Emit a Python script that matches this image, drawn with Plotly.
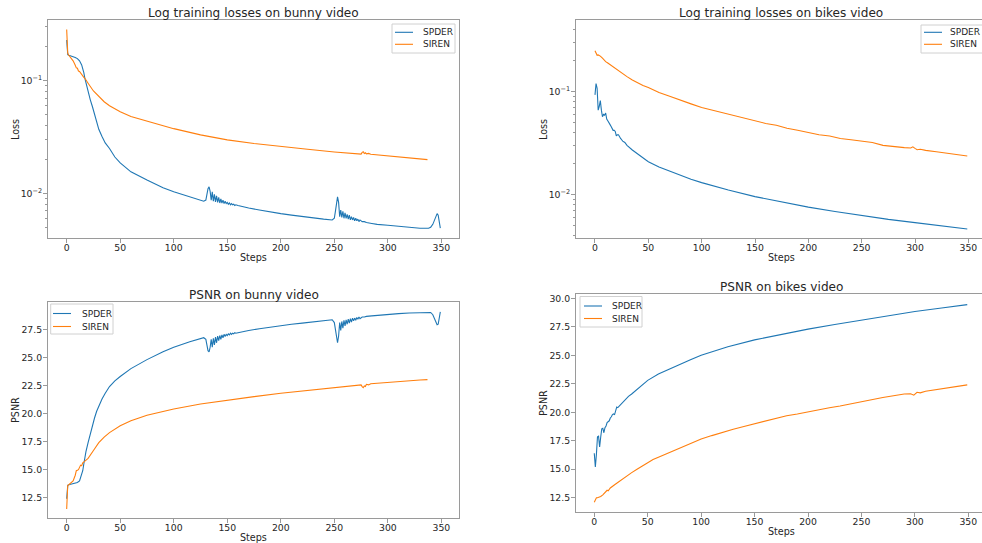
import plotly.graph_objects as go

# ---------------- data (step, value) ----------------
bunny_loss_spder = [
    (0, 0.23), (1, 0.170), (2, 0.168), (4, 0.166), (6, 0.164), (8, 0.161), (10, 0.157), (12, 0.150),
    (14, 0.138), (15, 0.130), (16, 0.118), (17, 0.105), (18, 0.095), (20, 0.080), (22, 0.068),
    (24, 0.059), (26, 0.050), (28, 0.043), (30, 0.037), (33, 0.032), (36, 0.028), (40, 0.025),
    (45, 0.021), (50, 0.0186), (60, 0.0155), (75, 0.0131), (90, 0.0112), (100, 0.0103), (115, 0.0093),
    (128, 0.0085), (130, 0.0087), (131, 0.0098), (132, 0.0110), (133, 0.0114), (134, 0.0104),
    (135, 0.0087), (136, 0.0103), (137, 0.0085), (138, 0.0098), (139, 0.0084), (140, 0.0095),
    (141, 0.0083), (142, 0.0092), (143, 0.0082), (144, 0.0089), (145, 0.0082), (146, 0.0087),
    (147, 0.0081), (148, 0.0085), (149, 0.0081), (150, 0.0083), (151, 0.0080), (152, 0.0082),
    (153, 0.0079), (154, 0.0081), (155, 0.0079), (156, 0.0080), (157, 0.0078), (158, 0.0079),
    (160, 0.0078), (162, 0.0077), (165, 0.0076), (170, 0.0074), (180, 0.0071), (190, 0.0068),
    (200, 0.0066), (210, 0.0064), (220, 0.0062), (230, 0.0061), (240, 0.0059), (248, 0.0058),
    (250, 0.0060), (251, 0.0069), (252, 0.0083), (253, 0.0093), (254, 0.0083), (255, 0.0062),
    (256, 0.0071), (257, 0.0061), (258, 0.0069), (259, 0.0060), (260, 0.0067), (261, 0.0060),
    (262, 0.0065), (263, 0.0059), (264, 0.0064), (265, 0.0058), (266, 0.0062), (267, 0.0058),
    (268, 0.0061), (269, 0.0057), (270, 0.0060), (271, 0.0057), (272, 0.0059), (273, 0.0056),
    (274, 0.0058), (276, 0.0056), (278, 0.0056), (280, 0.0055), (285, 0.0054), (290, 0.0053),
    (300, 0.0052), (310, 0.0051), (320, 0.0050), (330, 0.0049), (338, 0.0049), (340, 0.0050),
    (342, 0.0053), (344, 0.0059), (345, 0.0063), (346, 0.0066), (347, 0.0064), (348, 0.0056),
    (349, 0.0049),
]
bunny_loss_siren = [
    (0, 0.285), (1, 0.175), (2, 0.168), (4, 0.160), (6, 0.150), (8, 0.137), (9, 0.130), (10, 0.129),
    (11, 0.122), (12, 0.121), (14, 0.113), (16, 0.107), (17, 0.105), (18, 0.101), (20, 0.095),
    (25, 0.081), (30, 0.072), (35, 0.065), (40, 0.060), (50, 0.053), (60, 0.048), (75, 0.0435),
    (100, 0.0375), (125, 0.0330), (150, 0.0298), (175, 0.0277), (200, 0.0260), (225, 0.0246),
    (250, 0.0233), (270, 0.0225), (275, 0.0223), (276, 0.0231), (277, 0.0234), (278, 0.0226),
    (279, 0.0229), (280, 0.0224), (282, 0.0226), (284, 0.0222), (290, 0.0219), (300, 0.0214),
    (310, 0.0209), (320, 0.0205), (330, 0.0201), (337, 0.0199),
]
bikes_loss_spder = [
    (0, 0.093), (1, 0.120), (2, 0.108), (3, 0.066), (4, 0.072), (5, 0.082), (6, 0.066), (7, 0.057),
    (8, 0.060), (9, 0.059), (10, 0.062), (11, 0.054), (12, 0.052), (13, 0.049), (14, 0.048),
    (15, 0.046), (16, 0.044), (17, 0.042), (18, 0.042), (19, 0.041), (20, 0.037), (21, 0.038),
    (22, 0.038), (23, 0.036), (24, 0.035), (25, 0.034), (26, 0.033), (28, 0.032), (30, 0.030),
    (35, 0.027), (40, 0.0247), (45, 0.0225), (50, 0.0208), (60, 0.0185), (75, 0.0160), (90, 0.0140),
    (100, 0.0130), (125, 0.0110), (150, 0.0095), (175, 0.0084), (200, 0.0075), (225, 0.0068),
    (250, 0.0062), (275, 0.0057), (300, 0.0053), (325, 0.0049), (349, 0.0046),
]
bikes_loss_siren = [
    (0, 0.250), (1, 0.238), (2, 0.226), (3, 0.228), (5, 0.222), (7, 0.212), (8, 0.205), (10, 0.196),
    (12, 0.190), (15, 0.180), (20, 0.165), (25, 0.150), (30, 0.140), (35, 0.130), (40, 0.122),
    (45, 0.115), (50, 0.110), (60, 0.098), (70, 0.090), (75, 0.086), (80, 0.082), (90, 0.076),
    (100, 0.070), (110, 0.066), (120, 0.062), (125, 0.060), (130, 0.059), (140, 0.055), (150, 0.052),
    (160, 0.049), (170, 0.047), (180, 0.044), (190, 0.042), (200, 0.040), (210, 0.038), (220, 0.037),
    (230, 0.035), (240, 0.034), (250, 0.033), (260, 0.032), (270, 0.030), (280, 0.029), (290, 0.0285),
    (296, 0.0283), (298, 0.0290), (300, 0.0280), (302, 0.0272), (305, 0.0275), (310, 0.0268),
    (320, 0.0260), (330, 0.0252), (340, 0.0245), (349, 0.0236),
]
bunny_psnr_spder = [
    (0, 12.4), (1, 13.6), (2, 13.65), (4, 13.7), (6, 13.75), (8, 13.8), (10, 13.85), (12, 14.0),
    (14, 14.5), (15, 14.9), (16, 15.5), (17, 16.1), (18, 16.6), (20, 17.4), (22, 18.2), (24, 18.9),
    (26, 19.6), (28, 20.2), (30, 20.7), (33, 21.3), (36, 21.8), (40, 22.4), (45, 22.9), (50, 23.3),
    (60, 24.0), (75, 24.8), (90, 25.5), (100, 25.9), (115, 26.4), (128, 26.75), (130, 26.6),
    (131, 26.1), (132, 25.6), (133, 25.5), (134, 25.9), (135, 26.6), (136, 25.9), (137, 26.7),
    (138, 26.1), (139, 26.8), (140, 26.3), (141, 26.9), (142, 26.5), (143, 26.95), (144, 26.6),
    (145, 27.0), (146, 26.75), (147, 27.05), (148, 26.85), (149, 27.05), (150, 26.95), (151, 27.1),
    (152, 27.0), (153, 27.15), (154, 27.05), (155, 27.15), (156, 27.1), (157, 27.2), (158, 27.15),
    (160, 27.2), (162, 27.25), (165, 27.3), (170, 27.4), (180, 27.55), (190, 27.7), (200, 27.85),
    (210, 27.95), (220, 28.05), (230, 28.15), (240, 28.25), (248, 28.35), (250, 28.1), (251, 27.5),
    (252, 26.8), (253, 26.3), (254, 26.9), (255, 28.1), (256, 27.4), (257, 28.2), (258, 27.6),
    (259, 28.3), (260, 27.8), (261, 28.35), (262, 27.95), (263, 28.4), (264, 28.05), (265, 28.45),
    (266, 28.15), (267, 28.5), (268, 28.25), (269, 28.5), (270, 28.3), (271, 28.55), (272, 28.4),
    (273, 28.6), (274, 28.45), (276, 28.6), (278, 28.6), (280, 28.65), (285, 28.7), (290, 28.75),
    (300, 28.85), (310, 28.9), (320, 28.95), (330, 29.0), (338, 29.05), (340, 29.0), (342, 28.8),
    (344, 28.3), (345, 28.0), (346, 27.9), (347, 27.95), (348, 28.5), (349, 29.05),
]
bunny_psnr_siren = [
    (0, 11.5), (1, 13.6), (2, 13.65), (4, 13.8), (6, 14.0), (8, 14.5), (9, 14.9), (10, 14.95),
    (11, 15.0), (12, 15.2), (13, 15.4), (14, 15.35), (15, 15.6), (17, 15.75), (20, 16.0), (25, 16.7),
    (30, 17.4), (35, 17.9), (40, 18.3), (50, 18.9), (60, 19.35), (75, 19.85), (100, 20.4),
    (125, 20.85), (150, 21.2), (175, 21.5), (200, 21.8), (225, 22.05), (250, 22.3), (270, 22.5),
    (275, 22.55), (276, 22.4), (277, 22.3), (278, 22.45), (279, 22.4), (280, 22.6), (282, 22.55),
    (284, 22.65), (290, 22.7), (300, 22.78), (310, 22.85), (320, 22.92), (330, 22.98), (337, 23.02),
]
bikes_psnr_spder = [
    (0, 16.4), (1, 15.2), (2, 16.3), (3, 17.85), (4, 17.9), (5, 16.95), (6, 17.8), (7, 18.55),
    (8, 18.6), (9, 18.2), (10, 18.65), (11, 18.8), (12, 19.1), (13, 19.2), (14, 19.25), (15, 19.5),
    (16, 19.6), (17, 19.8), (18, 19.85), (19, 19.8), (20, 20.2), (21, 20.45), (22, 20.4), (23, 20.5),
    (24, 20.6), (25, 20.7), (26, 20.85), (28, 21.0), (30, 21.2), (32, 21.4), (35, 21.6), (40, 22.0),
    (45, 22.4), (50, 22.8), (60, 23.35), (75, 24.0), (90, 24.6), (100, 25.0), (125, 25.75),
    (150, 26.35), (175, 26.85), (200, 27.3), (225, 27.7), (250, 28.1), (275, 28.5), (300, 28.85),
    (325, 29.15), (349, 29.45),
]
bikes_psnr_siren = [
    (0, 12.1), (1, 12.4), (2, 12.5), (3, 12.5), (5, 12.55), (6, 12.6), (8, 12.75), (10, 12.95),
    (12, 13.15), (13, 13.1), (15, 13.35), (20, 13.7), (25, 14.05), (30, 14.4), (35, 14.7), (40, 15.0),
    (45, 15.3), (50, 15.6), (55, 15.85), (60, 16.05), (70, 16.45), (75, 16.7), (80, 16.9), (90, 17.3),
    (100, 17.65), (110, 17.95), (120, 18.25), (130, 18.5), (140, 18.75), (150, 19.0), (160, 19.25),
    (170, 19.5), (180, 19.7), (190, 19.85), (200, 20.05), (210, 20.25), (220, 20.4), (230, 20.55),
    (240, 20.75), (250, 20.9), (260, 21.1), (270, 21.3), (280, 21.45), (290, 21.6), (296, 21.62),
    (299, 21.5), (302, 21.75), (305, 21.7), (310, 21.85), (320, 22.0), (330, 22.15), (340, 22.25),
    (349, 22.4),
]

series_names = ["SPDER", "SIREN"]
panel_titles = ["Log training losses on bunny video", "Log training losses on bikes video",
                "PSNR on bunny video", "PSNR on bikes video"]
x_label = "Steps"
y_labels = ["Loss", "Loss", "PSNR", "PSNR"]
step_ticks = [0, 50, 100, 150, 200, 250, 300, 350]
log_ticks = [0.01, 0.1]
log_ticktext = ["10<sup>\u22122</sup>", "10<sup>\u22121</sup>"]
log_minor = [0.004, 0.005, 0.006, 0.007, 0.008, 0.009, 0.02, 0.03, 0.04, 0.05, 0.06, 0.07,
             0.08, 0.09, 0.2, 0.3, 0.4]
psnr_ticks_left = [12.5, 15.0, 17.5, 20.0, 22.5, 25.0, 27.5]
psnr_ticks_right = [12.5, 15.0, 17.5, 20.0, 22.5, 25.0, 27.5, 30.0]

# ---------------- styling ----------------
W, H = 982, 543
BLUE, ORANGE = "#1f77b4", "#ff7f0e"
SPINE = "#9a9a9a"
TXT = "#262626"
FONT = "DejaVu Sans"
TICK_SIZE, LABEL_SIZE, TITLE_SIZE, LEGEND_SIZE = 9.3, 9.6, 12.1, 9.0


def px(x):
    return x / W


def py(y):
    return 1 - y / H


def unzip(pairs):
    return [p[0] for p in pairs], [p[1] for p in pairs]


fig = go.Figure()

panels = [
    ("x", "y", bunny_loss_spder, bunny_loss_siren),
    ("x2", "y2", bikes_loss_spder, bikes_loss_siren),
    ("x3", "y3", bunny_psnr_spder, bunny_psnr_siren),
    ("x4", "y4", bikes_psnr_spder, bikes_psnr_siren),
]
for xa, ya, s1, s2 in panels:
    for pairs, name, col in ((s1, series_names[0], BLUE), (s2, series_names[1], ORANGE)):
        xs, ys = unzip(pairs)
        fig.add_trace(go.Scatter(x=xs, y=ys, mode="lines", name=name, xaxis=xa, yaxis=ya,
                                 line=dict(color=col, width=1.1), showlegend=False,
                                 hoverinfo="skip"))

# panel geometry in pixels: (left, right, top, bottom)
geom = [(48, 459, 20, 238), (576, 982, 20, 238), (48, 459, 301.7, 518), (576, 982, 294, 511.7)]
x_ranges = [[-17.45, 366.45], [-17.8, 362.8], [-17.45, 366.45], [-17.1, 362.8]]
y_ranges = [[-2.397, -0.461], [-2.4255, -0.302], [10.69, 29.96], [11.27, 30.38]]

common = dict(showline=True, linecolor=SPINE, linewidth=1, mirror=True, ticks="outside",
              ticklen=4, tickwidth=1, tickcolor=SPINE, showgrid=False, zeroline=False,
              tickfont=dict(family=FONT, size=TICK_SIZE, color=TXT))
layout = {}
for i, (l, r, t, b) in enumerate(geom):
    sfx = "" if i == 0 else str(i + 1)
    layout["xaxis" + sfx] = dict(common, domain=[px(l), px(r)], anchor="y" + sfx,
                                 range=x_ranges[i], tickvals=step_ticks, ticklabelstandoff=-3)
    yax = dict(common, domain=[py(b), py(t)], anchor="x" + sfx, range=y_ranges[i],
               ticklabelstandoff=-1)
    if i < 2:
        yax.update(type="log", tickvals=log_ticks, ticktext=log_ticktext,
                   minor=dict(tickvals=log_minor, ticks="outside", ticklen=2,
                              tickcolor=SPINE, showgrid=False))
    else:
        yax.update(tickvals=psnr_ticks_left if i == 2 else psnr_ticks_right, tickformat=".1f")
    layout["yaxis" + sfx] = yax

annotations = []
title_pos = [(253.5, 13), (781, 13), (253.5, 295), (781, 286.5)]
for (tx, ty), txt in zip(title_pos, panel_titles):
    annotations.append(dict(x=px(tx), y=py(ty), xref="paper", yref="paper", text=txt,
                            showarrow=False, xanchor="center", yanchor="middle",
                            font=dict(family=FONT, size=TITLE_SIZE, color=TXT)))
xlab_pos = [(253.5, 257), (781, 257), (253.5, 537), (781, 531.5)]
for tx, ty in xlab_pos:
    annotations.append(dict(x=px(tx), y=py(ty), xref="paper", yref="paper", text=x_label,
                            showarrow=False, xanchor="center", yanchor="middle",
                            font=dict(family=FONT, size=LABEL_SIZE, color=TXT)))
ylab_pos = [(15, 130), (543, 130), (15, 410), (543, 403)]
for (tx, ty), txt in zip(ylab_pos, y_labels):
    annotations.append(dict(x=px(tx), y=py(ty), xref="paper", yref="paper", text=txt,
                            showarrow=False, xanchor="center", yanchor="middle", textangle=-90,
                            font=dict(family=FONT, size=LABEL_SIZE, color=TXT)))

# legends drawn as boxes: (box l, r, t, b, sample x0, x1, text x, row1 y, row2 y)
legends = [
    (392, 455, 24, 53, 395, 413, 421, 32.3, 44.3),
    (921, 990, 25, 53, 924, 942, 948, 32.3, 44.3),
    (50.7, 113, 304, 334, 53, 71, 80, 313.5, 326.5),
    (580, 642, 296.5, 327, 584, 602, 610, 306, 318.5),
]
shapes = []
for bl, br, bt, bb, sx0, sx1, tx, y1, y2 in legends:
    shapes.append(dict(type="rect", xref="paper", yref="paper", x0=px(bl), x1=px(br),
                       y0=py(bb), y1=py(bt), line=dict(color="#d0d0d0", width=1),
                       fillcolor="rgba(255,255,255,0.85)", layer="above"))
    for yy, col, name in ((y1, BLUE, series_names[0]), (y2, ORANGE, series_names[1])):
        shapes.append(dict(type="line", xref="paper", yref="paper", x0=px(sx0), x1=px(sx1),
                           y0=py(yy), y1=py(yy), line=dict(color=col, width=1.1), layer="above"))
        annotations.append(dict(x=px(tx), y=py(yy), xref="paper", yref="paper", text=name,
                                showarrow=False, xanchor="left", yanchor="middle",
                                font=dict(family=FONT, size=LEGEND_SIZE, color=TXT)))

fig.update_layout(**layout)
fig.update_layout(width=W, height=H, autosize=False, margin=dict(l=0, r=0, t=0, b=0),
                  paper_bgcolor="white", plot_bgcolor="white", showlegend=False,
                  annotations=annotations, shapes=shapes,
                  font=dict(family=FONT, color=TXT))
fig.write_html("out.html", config={"displayModeBar": False},
               post_script="document.body.style.margin='0';document.body.style.padding='0';")
